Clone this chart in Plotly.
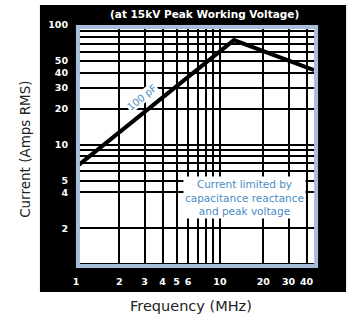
import math
import plotly.graph_objects as go

# ---- data ----
freq_mhz = [1, 12.5, 45]
current_amps = [6.5, 75, 42]

x_grid_vals = [1, 2, 3, 4, 5, 6, 7, 8, 9, 10, 20, 30, 40]
x_tick_text = ["1", "2", "3", "4", "5", "6", "", "", "", "10", "20", "30", "40"]
y_grid_vals = [1, 2, 4, 5, 6, 7, 8, 9, 10, 20, 30, 40, 50, 60, 70, 80, 90, 100]
y_tick_text = ["", "2", "4", "5", "", "", "", "", "10", "20", "30", "40", "50", "", "", "", "", "100"]

title_text = "(at 15kV Peak Working Voltage)"
x_title = "Frequency (MHz)"
y_title = "Current (Amps RMS)"
curve_label = "100 pF"
note_text = "Current limited by<br>capacitance reactance<br>and peak voltage"

BLUE_TXT = "#4a8cc6"
BORDER_BLUE = "#a6bedb"

fig = go.Figure()
fig.add_trace(go.Scatter(
    x=freq_mhz, y=current_amps, mode="lines",
    line=dict(color="black", width=4), hoverinfo="skip",
))

tickfont = dict(color="white", size=9.5, family="DejaVu Sans", weight="bold")

fig.update_xaxes(
    type="log", range=[0, math.log10(48)],
    tickmode="array", tickvals=x_grid_vals, ticktext=x_tick_text,
    showgrid=True, gridcolor="black", gridwidth=2,
    ticks="outside", ticklen=5, tickcolor="black",
    tickfont=tickfont, showline=False, zeroline=False,
)
fig.update_yaxes(
    type="log", range=[-0.03, 2.001],
    tickmode="array", tickvals=y_grid_vals, ticktext=y_tick_text,
    showgrid=True, gridcolor="black", gridwidth=2,
    ticks="outside", ticklen=5, tickcolor="black",
    tickfont=tickfont, showline=False, zeroline=False,
)

shapes = []
# black frame around the plotting area (four pieces)
for x0, x1, y0, y1 in [(-0.149, 0, -0.099, 1.082), (1, 1.116, -0.099, 1.082),
                       (0, 1, 1, 1.082), (0, 1, -0.099, 0)]:
    shapes.append(dict(type="rect", xref="paper", yref="paper",
                       x0=x0, x1=x1, y0=y0, y1=y1,
                       fillcolor="black", line=dict(width=0), layer="below"))
# light blue inner border
shapes.append(dict(type="rect", xref="paper", yref="paper",
                   x0=0.008, x1=0.992, y0=0.008, y1=0.992,
                   line=dict(color=BORDER_BLUE, width=4), layer="above"))

def ann(text, x, y, font, **kw):
    d = dict(text=text, xref="paper", yref="paper", x=x, y=y,
             xanchor="center", yanchor="middle", showarrow=False, font=font)
    d.update(kw)
    return d

annotations = [
    ann(title_text, 0.529, 1.047,
        dict(color="white", size=10.5, family="DejaVu Sans", weight="bold")),
    ann(x_title, 0.477, -0.156, dict(color="#222222", size=14.5, family="DejaVu Sans")),
    ann(y_title, -0.211, 0.49, dict(color="#222222", size=13.5, family="DejaVu Sans"),
        textangle=-90),
    ann(curve_label, 0.273, 0.70, dict(color=BLUE_TXT, size=10, family="DejaVu Sans"),
        textangle=-39, bgcolor="white", borderpad=0),
    ann(note_text, 0.696, 0.29, dict(color=BLUE_TXT, size=10.5, family="DejaVu Sans"),
        bgcolor="white", borderpad=1),
]

fig.update_layout(
    width=352, height=322,
    margin=dict(l=76, r=34, t=25, b=54),
    paper_bgcolor="white", plot_bgcolor="white",
    showlegend=False, hovermode=False,
    shapes=shapes, annotations=annotations,
)

fig.write_html("out.html", config={"displayModeBar": False, "staticPlot": True})

# remove the default page margin so the figure sits at the window origin
with open("out.html", "r", encoding="utf-8") as f:
    html = f.read()
html = html.replace("<head>", "<head><style>html,body{margin:0;padding:0;overflow:hidden}</style>", 1)
with open("out.html", "w", encoding="utf-8") as f:
    f.write(html)
